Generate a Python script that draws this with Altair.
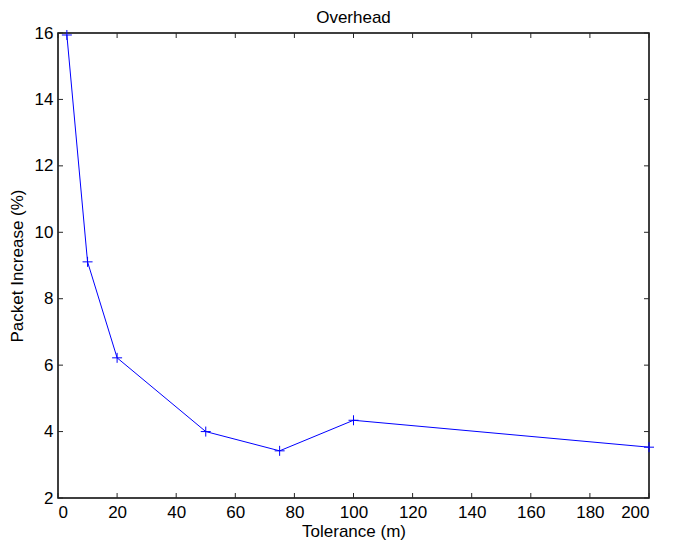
import altair as alt
import pandas as pd

# Data
tolerance = [3, 10, 20, 50, 75, 100, 200]
increase = [15.94, 9.11, 6.22, 4.0, 3.42, 4.34, 3.53]
x_ticks = [0, 20, 40, 60, 80, 100, 120, 140, 160, 180, 200]
y_ticks = [2, 4, 6, 8, 10, 12, 14, 16]
title_text = ["Overhead"]

W, H = 591, 465
FONT = "Liberation Sans"
FS = 17

df = pd.DataFrame({"tol": tolerance, "inc": increase})
xt = pd.DataFrame({"v": x_ticks})
yt = pd.DataFrame({"v": y_ticks})
tt = pd.DataFrame({"t": title_text})

xscale = alt.Scale(domain=[0, 200], nice=False, zero=False)
yscale = alt.Scale(domain=[2, 16], nice=False, zero=False)

xaxis = alt.Axis(values=x_ticks, ticks=False, domain=False, grid=False,
                 labelFont=FONT, labelFontSize=FS, labelColor="black",
                 labelPadding=6, title="Tolerance (m)", titleFont=FONT,
                 titleFontSize=FS, titleFontWeight="normal", titleColor="black",
                 titlePadding=3)
yaxis = alt.Axis(values=y_ticks, ticks=False, domain=False, grid=False,
                 labelFont=FONT, labelFontSize=FS, labelColor="black",
                 labelPadding=5, title="Packet Increase (%)", titleFont=FONT,
                 titleFontSize=FS, titleFontWeight="normal", titleColor="black",
                 titlePadding=8)

line = alt.Chart(df).mark_line(color="#0000ff", strokeWidth=1).encode(
    x=alt.X("tol:Q", scale=xscale, axis=xaxis),
    y=alt.Y("inc:Q", scale=yscale, axis=yaxis),
)
pts = alt.Chart(df).mark_point(
    shape="M-1,0L1,0M0,-1L0,1", size=100, filled=False,
    color="#0000ff", strokeWidth=1, opacity=1
).encode(x=alt.X("tol:Q", scale=xscale), y=alt.Y("inc:Q", scale=yscale))

tick_col = "#262626"
bx = alt.Chart(xt).mark_rule(color=tick_col, strokeWidth=1).encode(
    x=alt.X("v:Q", scale=xscale), y=alt.value(H), y2=alt.value(H - 5))
tx = alt.Chart(xt).mark_rule(color=tick_col, strokeWidth=1).encode(
    x=alt.X("v:Q", scale=xscale), y=alt.value(0), y2=alt.value(5))
ly = alt.Chart(yt).mark_rule(color=tick_col, strokeWidth=1).encode(
    y=alt.Y("v:Q", scale=yscale), x=alt.value(0), x2=alt.value(5))
ry = alt.Chart(yt).mark_rule(color=tick_col, strokeWidth=1).encode(
    y=alt.Y("v:Q", scale=yscale), x=alt.value(W), x2=alt.value(W - 5))

title = alt.Chart(tt).mark_text(
    font=FONT, fontSize=FS, color="black", align="center", baseline="alphabetic"
).encode(text="t:N", x=alt.value(W / 2), y=alt.value(-10))

chart = alt.layer(bx, tx, ly, ry, line, pts, title).properties(
    width=W, height=H,
    autosize=alt.AutoSizeParams(type="none"),
    padding={"left": 58, "top": 33, "right": 29, "bottom": 43},
).configure(
    background="white",
    view=alt.ViewConfig(stroke="black", strokeWidth=1.5, strokeOpacity=1),
)

chart.save("out.html", embed_options={"renderer": "svg", "actions": False})
